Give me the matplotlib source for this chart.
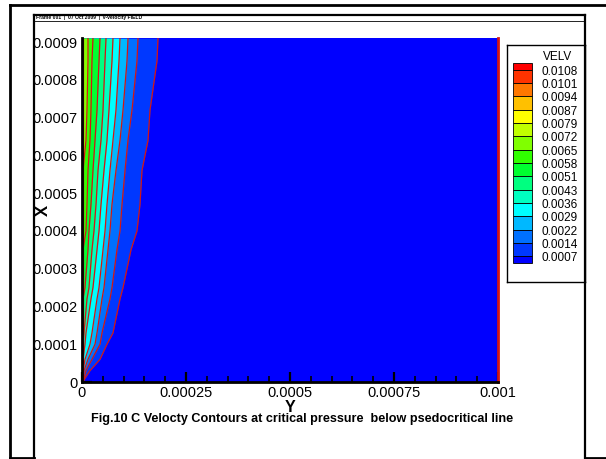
import numpy as np
import matplotlib
matplotlib.use('Agg')
import matplotlib.pyplot as plt
from matplotlib.patches import Rectangle
from matplotlib.lines import Line2D
from matplotlib.ticker import MultipleLocator, FixedLocator, FixedFormatter

plt.rcParams['font.family'] = ['Liberation Sans', 'DejaVu Sans']

nan = np.nan

# ---------------- data ----------------
LEVELS = [0.0007, 0.0014, 0.0022, 0.0029, 0.0036, 0.0043, 0.0051, 0.0058,
          0.0065, 0.0072, 0.0079, 0.0087, 0.0094, 0.0101, 0.0108]
LEVEL_LABELS = ['0.0007', '0.0014', '0.0022', '0.0029', '0.0036', '0.0043', '0.0051',
                '0.0058', '0.0065', '0.0072', '0.0079', '0.0087', '0.0094', '0.0101', '0.0108']
BAND_COLORS = ['#0000ff', '#0038ff', '#0070ff', '#00b8ff', '#00ffff', '#00ffc0',
               '#00ff80', '#00ff30', '#30ff00', '#80ff00', '#c0ff00', '#ffff00',
               '#ffc000', '#ff7700', '#ff3300', '#ff0000']

# X positions (vertical axis) of the rows where contour crossings were read, in 1e-6 units
X_ROWS = [910, 850, 720, 640, 560, 470, 400, 350, 250, 220, 130, 100, 60, 30, 10, 0]

# Y position (horizontal axis, 1e-6 units) of each contour level along the rows
Y_0007 = [182.7, 180.3, 163.5, 158.7, 144.2, 139.4, 132.2, 117.8, 98.6, 91.4, 74.5, 60.1, 43.3, 19.2, 7.2, 2.4]
Y_0014 = [134.6, 132.2, 120.2, 110.6, 103.4, 96.2, 91.4, 84.1, 72.1, 67.3, 48.1, 43.3, 24.0, 9.6, 4.8, 2.4]
Y_0022 = [110.6, 108.2, 98.6, 91.4, 81.7, 72.1, 67.3, 62.5, 52.9, 48.1, 36.1, 31.3, 14.4, 4.8, 2.4, 1.2]
Y_0029 = [91.4, 88.9, 81.7, 74.5, 67.3, 60.1, 55.3, 50.5, 40.9, 36.1, 24.0, 19.2, 7.2, 2.4, 1.2, 0.5]
Y_0036 = [74.5, 72.1, 64.9, 60.1, 52.9, 45.7, 40.9, 36.1, 26.4, 21.6, 9.6, 7.2, 2.4, nan, nan, nan]
Y_0043 = [57.7, 55.3, 50.5, 45.7, 38.5, 33.7, 28.8, 24.0, 16.8, 12.0, 4.8, 2.4, nan, nan, nan, nan]
Y_0051 = [43.3, 40.9, 36.1, 31.3, 26.4, 21.6, 16.8, 14.4, 7.2, 2.4, nan, nan, nan, nan, nan, nan]
Y_0058 = [26.4, 24.0, 21.6, 19.2, 14.4, 12.0, 9.6, 2.4, nan, nan, nan, nan, nan, nan, nan, nan]
Y_0065 = [14.4, 14.4, 12.0, 9.6, 2.4, nan, nan, nan, nan, nan, nan, nan, nan, nan, nan, nan]
LEVEL_CURVES = [Y_0007, Y_0014, Y_0022, Y_0029, Y_0036, Y_0043, Y_0051, Y_0058, Y_0065]

DOMAIN_Y = 0.001
DOMAIN_X = 0.000912
WALL_Y = 1.5e-6

X_TICKS = [0, 0.00025, 0.0005, 0.00075, 0.001]
X_TICK_LABELS = ['0', '0.00025', '0.0005', '0.00075', '0.001']
Y_TICKS = [0, 0.0001, 0.0002, 0.0003, 0.0004, 0.0005, 0.0006, 0.0007, 0.0008, 0.0009]
Y_TICK_LABELS = ['0', '0.0001', '0.0002', '0.0003', '0.0004', '0.0005', '0.0006',
                 '0.0007', '0.0008', '0.0009']

HEADER = 'Frame 001  |  07 Oct 2009  |  v-velocity FIELD'
CAPTION = 'Fig.10 C Velocty Contours at critical pressure  below psedocritical line'

# ---------------- figure ----------------
W, H = 606, 459
fig = plt.figure(figsize=(W / 100, H / 100), dpi=100)
fig.patch.set_facecolor('white')


def fx(px):
    return px / W


def fy(py):
    return 1 - py / H


ax = fig.add_axes([fx(82), fy(382), fx(498) - fx(82), fy(37.5) - fy(382)])
xr = np.array(X_ROWS) * 1e-6

# background band (below lowest level)
ax.fill_betweenx([0, DOMAIN_X], 0, DOMAIN_Y, color=BAND_COLORS[0], lw=0, zorder=1)
for i, curve in enumerate(LEVEL_CURVES):
    yy = np.array(curve, dtype=float) * 1e-6
    ax.fill_betweenx(xr, 0, yy, color=BAND_COLORS[i + 1], lw=0, zorder=2 + i * 0.01)
for curve in LEVEL_CURVES:
    yy = np.array(curve, dtype=float) * 1e-6
    ax.plot(yy, xr, color='#d41414', lw=0.9, zorder=3)
ax.plot([WALL_Y, WALL_Y], [0, DOMAIN_X], color='#d41414', lw=1.6, zorder=3)
ax.plot([DOMAIN_Y, DOMAIN_Y], [0, DOMAIN_X], color='#d41414', lw=2.0, zorder=3, clip_on=False)

ax.set_xlim(0, DOMAIN_Y)
ax.set_ylim(0, DOMAIN_X)
for s in ['top', 'right']:
    ax.spines[s].set_visible(False)
for s in ['left', 'bottom']:
    ax.spines[s].set_linewidth(2.0)
    ax.spines[s].set_zorder(5)

ax.xaxis.set_major_locator(FixedLocator(X_TICKS))
ax.xaxis.set_major_formatter(FixedFormatter(X_TICK_LABELS))
ax.yaxis.set_major_locator(FixedLocator(Y_TICKS))
ax.yaxis.set_major_formatter(FixedFormatter(Y_TICK_LABELS))
ax.xaxis.set_minor_locator(MultipleLocator(0.00005))
ax.yaxis.set_minor_locator(MultipleLocator(0.00002))
ax.tick_params(which='major', direction='in', length=7, width=1.6, labelsize=10.5, pad=3.0,
               colors='black')
ax.tick_params(which='minor', direction='in', length=4, width=1.2)
for t in ax.get_xticklines() + ax.get_yticklines():
    t.set_zorder(6)

fig.text(fx(290), fy(407), 'Y', fontsize=11.5, fontweight='bold', ha='center', va='center')
fig.text(fx(43), fy(210), 'X', fontsize=12, fontweight='bold', ha='center', va='center',
         rotation=90)
fig.text(fx(302), fy(419), CAPTION, fontsize=9.1, fontweight='bold', ha='center', va='center')

# white mask clipping tick labels at the inner frame edge
fig.add_artist(Rectangle((fx(11), fy(458)), fx(34) - fx(11), fy(5) - fy(458),
                         transform=fig.transFigure, facecolor='white', edgecolor='none',
                         zorder=20))


def fline(x0, y0, x1, y1, lw=1.5):
    fig.add_artist(Line2D([fx(x0), fx(x1)], [fy(y0), fy(y1)], transform=fig.transFigure,
                          color='black', lw=lw, zorder=30, solid_capstyle='projecting'))


# outer frame
fline(10, 5, 606, 5, 2.0)
fline(10, 5, 10, 458, 2.0)
fline(10, 458, 34, 458, 2.0)
fline(585, 458, 606, 458, 2.0)
# inner frame
fline(34, 15, 585, 15, 1.6)
fline(34, 15, 34, 458, 1.6)
fline(585, 15, 585, 458, 1.6)
fline(34, 21, 585, 21, 0.6)
fig.text(fx(36), fy(18), HEADER, fontsize=3.6, fontweight='bold', ha='left', va='center')

# ---------------- legend ----------------
lx0, ly0, lx1, ly1 = 507, 45, 585, 282
lax = fig.add_axes([fx(lx0), fy(ly1), fx(lx1) - fx(lx0), fy(ly0) - fy(ly1)])
lax.set_xlim(0, lx1 - lx0)
lax.set_ylim(ly1 - ly0, 0)
lax.set_xticks([])
lax.set_yticks([])
for s in lax.spines.values():
    s.set_linewidth(1.0)
lax.text(51, 12, 'VELV', fontsize=8.5, ha='center', va='center')
step = 13.33
top0 = 18.0
nb = len(BAND_COLORS)
# band edges from top: half band, 14 full bands, half band
edges = [top0] + [top0 + 6.7 + step * k for k in range(len(LEVELS))] + [top0 + 6.7 + step * (len(LEVELS) - 1) + 7.0]
for j in range(nb):
    col = BAND_COLORS[nb - 1 - j]
    lax.add_patch(Rectangle((6, edges[j]), 19, edges[j + 1] - edges[j], facecolor=col,
                            edgecolor='black', lw=0.6))
for k in range(len(LEVELS)):
    lax.text(34, edges[k + 1] + 2.0, LEVEL_LABELS[len(LEVELS) - 1 - k], fontsize=8.5,
             ha='left', va='center')

fig.savefig('out.png', dpi=100)
